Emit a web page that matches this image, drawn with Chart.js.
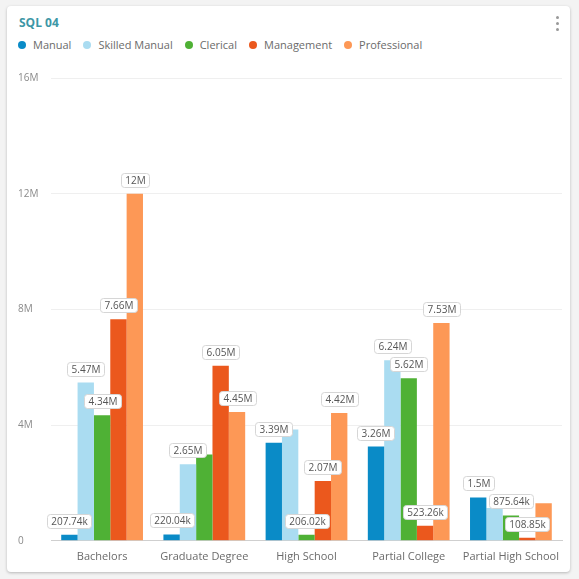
<!DOCTYPE html>
<html>
<head>
<meta charset="utf-8">
<script src="https://cdn.jsdelivr.net/npm/chart.js@4.4.1/dist/chart.umd.min.js"></script>
<style>
  html, body { margin: 0; padding: 0; background: #f3f3f3; }
  body { width: 579px; height: 579px; position: relative; overflow: hidden; font-family: "Open Sans", sans-serif; }
  .card {
    position: absolute; left: 7px; top: 6px; width: 563px; height: 566px;
    background: #fff; border-radius: 4px;
    box-shadow: 0 1px 3px rgba(0, 0, 0, 0.25);
  }
  .title {
    position: absolute; left: 19px; top: 14px;
    font-size: 12px; font-weight: 700; color: #3d97a6;
  }
  .menu { position: absolute; left: 556px; top: 16px; width: 4px; }
  .menu span { display: block; width: 3px; height: 3px; border-radius: 50%; background: #999; margin-bottom: 3px; }
  .legend { position: absolute; left: 18px; top: 37px; display: flex; font-size: 11px; color: #6b6b6b; }
  .legend .item { display: flex; align-items: center; margin-right: 12px; }
  .legend .dot { width: 8px; height: 8px; border-radius: 50%; margin-right: 7px; }
  canvas { position: absolute; left: 10px; top: 60px; }
</style>
</head>
<body>
<div class="card"></div>
<div class="title">SQL 04</div>
<div class="menu"><span></span><span></span><span></span></div>
<div class="legend" id="legend"></div>
<canvas id="chart" width="560" height="512"></canvas>
<script>
// Data
const categories = ["Bachelors", "Graduate Degree", "High School", "Partial College", "Partial High School"];
const seriesNames = ["Manual", "Skilled Manual", "Clerical", "Management", "Professional"];
const seriesColors = ["#0a8bc7", "#aadcf1", "#4fb135", "#eb581d", "#fd9856"];
const manual = [207740, 220040, 3390000, 3260000, 1500000];
const skilledManual = [5470000, 2650000, 3850000, 6240000, 1130000];
const clerical = [4340000, 2980000, 206020, 5620000, 875640];
const management = [7660000, 6050000, 2070000, 523260, 108850];
const professional = [12000000, 4450000, 4420000, 7530000, 1300000];
const yTicks = [0, 4000000, 8000000, 12000000, 16000000];

const seriesValues = [manual, skilledManual, clerical, management, professional];

// Format numbers like 12M / 1.5M / 207.74k
function formatShort(v) {
  if (v === 0) return "0";
  if (Math.abs(v) >= 1e6) return parseFloat((v / 1e6).toFixed(2)) + "M";
  if (Math.abs(v) >= 1e3) return parseFloat((v / 1e3).toFixed(2)) + "k";
  return String(v);
}

// HTML legend
const legendEl = document.getElementById("legend");
legendEl.innerHTML = seriesNames
  .map((name, i) => `<div class="item"><span class="dot" style="background:${seriesColors[i]}"></span>${name}</div>`)
  .join("");

// Value labels above bars, skipped when they would collide with one already drawn
const barLabels = {
  id: "barLabels",
  afterDatasetsDraw(chart) {
    const ctx = chart.ctx;
    const drawn = [];
    const gap = 2;
    ctx.save();
    ctx.font = "10px 'Open Sans'";
    ctx.textAlign = "center";
    ctx.textBaseline = "middle";
    for (let c = 0; c < categories.length; c++) {
      chart.data.datasets.forEach((ds, d) => {
        const bar = chart.getDatasetMeta(d).data[c];
        const text = formatShort(ds.data[c]);
        const w = Math.round(ctx.measureText(text).width) + 8;
        const h = 14;
        const box = { x: Math.round(bar.x - w / 2), y: Math.round(bar.y) - 7 - h, w: w, h: h };
        const hit = drawn.some(
          (b) =>
            box.x < b.x + b.w + gap &&
            box.x + box.w + gap > b.x &&
            box.y < b.y + b.h + gap &&
            box.y + box.h + gap > b.y
        );
        if (hit) return;
        drawn.push(box);
        ctx.beginPath();
        ctx.roundRect(box.x + 0.5, box.y + 0.5, box.w, box.h, 3);
        ctx.fillStyle = "#fff";
        ctx.fill();
        ctx.strokeStyle = "#d6d6d6";
        ctx.lineWidth = 1;
        ctx.stroke();
        ctx.fillStyle = "#555";
        ctx.fillText(text, box.x + box.w / 2 + 0.5, box.y + h / 2 + 1);
      });
    }
    ctx.restore();
  },
};

Chart.defaults.font.family = "'Open Sans', sans-serif";

new Chart(document.getElementById("chart").getContext("2d"), {
  type: "bar",
  data: {
    labels: categories,
    datasets: seriesNames.map((name, i) => ({
      label: name,
      data: seriesValues[i],
      backgroundColor: seriesColors[i],
      barPercentage: 1,
      categoryPercentage: 0.8,
    })),
  },
  options: {
    responsive: false,
    animation: false,
    layout: { padding: { left: 8, right: 8, top: 18, bottom: 0 } },
    plugins: {
      legend: { display: false },
      tooltip: { enabled: false },
    },
    scales: {
      x: {
        grid: { display: false, drawTicks: false },
        border: { color: "#cfcfcf" },
        ticks: {
          color: "#6b6b6b",
          font: { size: 11 },
          padding: 9,
          maxRotation: 0,
          minRotation: 0,
          autoSkip: false,
        },
      },
      y: {
        min: 0,
        max: 16000000,
        afterBuildTicks: (axis) => {
          axis.ticks = yTicks.map((v) => ({ value: v }));
        },
        afterFit: (axis) => {
          axis.width = 33;
        },
        grid: { color: "#efefef", drawTicks: false },
        border: { display: false },
        ticks: {
          color: "#8a8a8a",
          font: { size: 10 },
          crossAlign: "far",
          callback: (v) => formatShort(v),
        },
      },
    },
  },
  plugins: [barLabels],
});
</script>
</body>
</html>
